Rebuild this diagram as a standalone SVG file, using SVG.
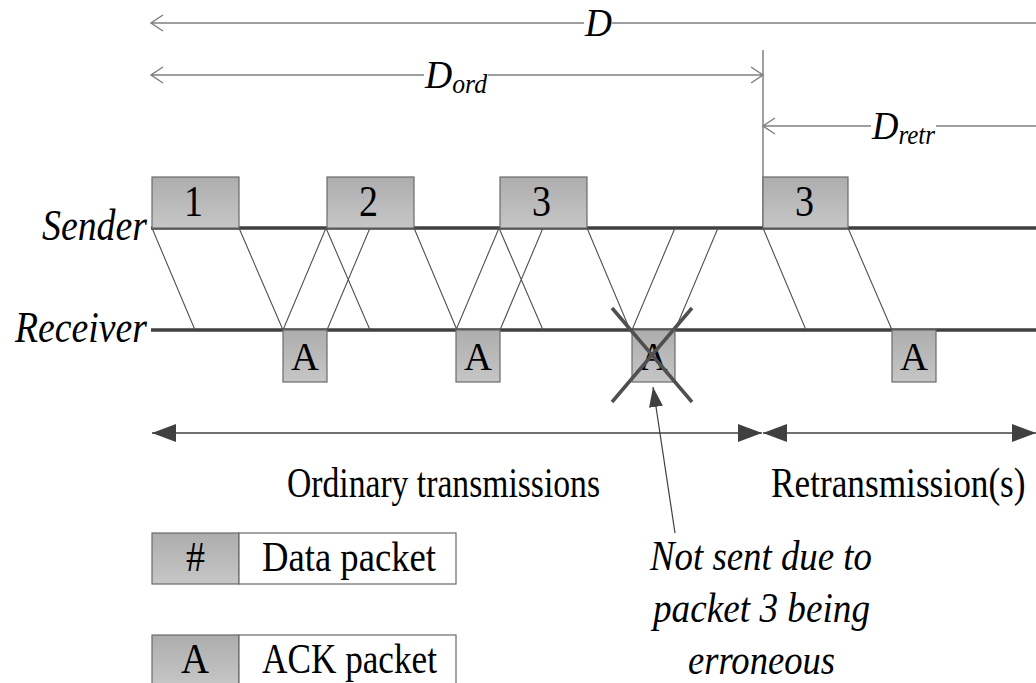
<svg xmlns="http://www.w3.org/2000/svg" width="1036" height="683" viewBox="0 0 1036 683">
<defs>
<linearGradient id="pk" x1="0" y1="0" x2="0" y2="1">
<stop offset="0" stop-color="#adadad"/>
<stop offset="1" stop-color="#c6c6c6"/>
</linearGradient>
<marker id="fa" viewBox="0 0 24 18" refX="24" refY="9" markerWidth="24" markerHeight="18" markerUnits="userSpaceOnUse" orient="auto-start-reverse">
<path d="M0,0 L24,9 L0,18 Z" fill="#404040"/>
</marker>
<marker id="pa" viewBox="0 0 20 14" refX="20" refY="7" markerWidth="20" markerHeight="14" markerUnits="userSpaceOnUse" orient="auto">
<path d="M0,0 L20,7 L0,14 Z" fill="#404040"/>
</marker>
</defs>
<style>
.t{font-family:"Liberation Serif","Times New Roman",serif;fill:#000}
.i{font-style:italic}
.pk{fill:url(#pk);stroke:#6a6a6a;stroke-width:1.2}
.wb{fill:#fff;stroke:#6a6a6a;stroke-width:1.2}
.dim{stroke:#808080;stroke-width:1.5;fill:none}
.tl{stroke:#404040;stroke-width:3.5;fill:none}
.pr{stroke:#505050;stroke-width:1.1;fill:none}
</style>
<rect width="1036" height="683" fill="#fff"/>

<g id="connectors">
<path class="dim" d="M151,23 H584 M612,23 H1036 M163,15 L151,23 L163,31"/>
<path class="dim" d="M151,75 H424 M488,75 H763 M163,67 L151,75 L163,83 M751,67 L763,75 L751,83"/>
<path class="dim" d="M763,50 V228"/>
<path class="dim" d="M763,126 H871 M936,126 H1036 M775,118 L763,126 L775,134"/>
<path class="tl" d="M151,228 H1036 M151,330 H1036"/>
<path class="pr" d="M152,228 L195,330 M239,228 L283,330
M283,330 L326,228 M327,330 L370,228
M326,228 L370,330 M414,228 L457,330
M456,330 L499,228 M500,330 L543,228
M499,228 L543,330 M587,228 L630,330
M632,330 L675,228 M675,330 L718,228
M763,228 L806,330 M848,228 L892,330"/>
<line x1="152" y1="433" x2="762" y2="433" stroke="#404040" stroke-width="1.5" marker-start="url(#fa)" marker-end="url(#fa)"/>
<line x1="763" y1="433" x2="1036" y2="433" stroke="#404040" stroke-width="1.5" marker-start="url(#fa)" marker-end="url(#fa)"/>
<line x1="675" y1="533" x2="653" y2="387" stroke="#404040" stroke-width="1.2" marker-end="url(#pa)"/>
</g>

<g id="labels">
<text class="t i" x="585" y="36" font-size="41" textLength="27" lengthAdjust="spacingAndGlyphs">D</text>
<text class="t i" x="425" y="88" font-size="41" textLength="62" lengthAdjust="spacingAndGlyphs">D<tspan font-size="28" dy="5">ord</tspan></text>
<text class="t i" x="872" y="139" font-size="41" textLength="63" lengthAdjust="spacingAndGlyphs">D<tspan font-size="28" dy="5">retr</tspan></text>
<text class="t i" x="42" y="240" font-size="44" textLength="105" lengthAdjust="spacingAndGlyphs">Sender</text>
<text class="t i" x="15" y="342" font-size="44" textLength="132" lengthAdjust="spacingAndGlyphs">Receiver</text>
<text class="t" x="287" y="497" font-size="43" textLength="313" lengthAdjust="spacingAndGlyphs">Ordinary transmissions</text>
<text class="t" transform="translate(771,497) scale(0.82,1)" font-size="43">Retransmission(s)</text>
</g>

<g id="pkt1"><rect class="pk" x="152" y="177" width="87" height="51"/><text class="t" x="184" y="216" font-size="44" textLength="19" lengthAdjust="spacingAndGlyphs">1</text></g>
<g id="pkt2"><rect class="pk" x="327" y="177" width="87" height="51"/><text class="t" x="359" y="216" font-size="44" textLength="19" lengthAdjust="spacingAndGlyphs">2</text></g>
<g id="pkt3"><rect class="pk" x="500" y="177" width="87" height="51"/><text class="t" x="532" y="216" font-size="44" textLength="19" lengthAdjust="spacingAndGlyphs">3</text></g>
<g id="pkt3r"><rect class="pk" x="763" y="177" width="85" height="51"/><text class="t" x="795" y="216" font-size="44" textLength="19" lengthAdjust="spacingAndGlyphs">3</text></g>

<g id="ack1"><rect class="pk" x="283" y="330" width="44" height="52"/><text class="t" x="291" y="370" font-size="40" textLength="28" lengthAdjust="spacingAndGlyphs">A</text></g>
<g id="ack2"><rect class="pk" x="456" y="330" width="44" height="52"/><text class="t" x="464" y="370" font-size="40" textLength="28" lengthAdjust="spacingAndGlyphs">A</text></g>
<g id="ack3"><rect class="pk" x="632" y="330" width="43" height="52"/><text class="t" x="639.5" y="370" font-size="40" textLength="28" lengthAdjust="spacingAndGlyphs">A</text>
<path d="M612,308 L692,402 M692,308 L612,402" stroke="#505050" stroke-width="3.5" fill="none"/></g>
<g id="ack4"><rect class="pk" x="892" y="330" width="44" height="52"/><text class="t" x="900" y="370" font-size="40" textLength="28" lengthAdjust="spacingAndGlyphs">A</text></g>

<g id="note">
<text class="t i" x="650" y="570" font-size="42" textLength="222" lengthAdjust="spacingAndGlyphs">Not sent due to</text>
<text class="t i" x="653" y="622" font-size="42" textLength="217" lengthAdjust="spacingAndGlyphs">packet 3 being</text>
<text class="t i" x="688" y="674" font-size="42" textLength="147" lengthAdjust="spacingAndGlyphs">erroneous</text>
</g>

<g id="legend-data"><rect class="pk" x="152" y="533" width="87" height="51"/><rect class="wb" x="239" y="533" width="217" height="51"/>
<text class="t" x="186" y="571" font-size="42" textLength="19" lengthAdjust="spacingAndGlyphs">#</text>
<text class="t" x="262" y="571" font-size="42" textLength="174" lengthAdjust="spacingAndGlyphs">Data packet</text></g>
<g id="legend-ack"><rect class="pk" x="152" y="635" width="87" height="51"/><rect class="wb" x="239" y="635" width="217" height="51"/>
<text class="t" x="181" y="673" font-size="42" textLength="28" lengthAdjust="spacingAndGlyphs">A</text>
<text class="t" x="262" y="673" font-size="42" textLength="175" lengthAdjust="spacingAndGlyphs">ACK packet</text></g>
</svg>
